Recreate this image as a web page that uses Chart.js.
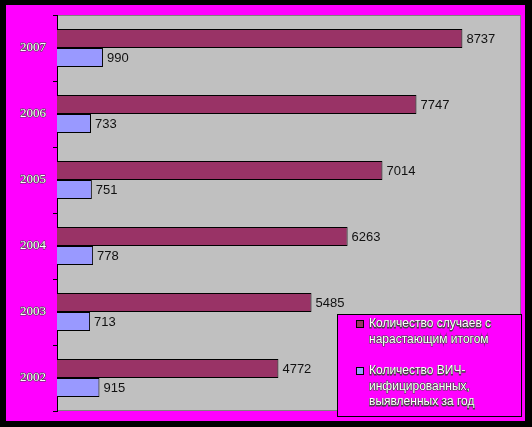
<!DOCTYPE html>
<html>
<head>
<meta charset="utf-8">
<script src="https://cdn.jsdelivr.net/npm/chart.js@4"></script>
<style>
  html, body { margin: 0; padding: 0; background: #000; }
  #wrap { width: 532px; height: 427px; position: relative; }
</style>
</head>
<body>
<div id="wrap"><canvas id="myChart" width="532" height="427"></canvas></div>
<script>
const years = ['2007', '2006', '2005', '2004', '2003', '2002']
const cumulative = [8737, 7747, 7014, 6263, 5485, 4772]
const perYear = [990, 733, 751, 778, 713, 915]
const legendLines = [
  ['Количество случаев с', 'нарастающим итогом'],
  ['Количество ВИЧ-', 'инфицированных,', 'выявленных за год']
]

const ctx = document.getElementById("myChart")

// magenta frame + grey plot area
const frame = {
  id: 'frame',
  beforeDraw(chart) {
    const c = chart.ctx, a = chart.chartArea
    c.save()
    c.fillStyle = '#000'
    c.fillRect(0, 0, chart.width, chart.height)
    c.fillStyle = '#ff00ff'
    c.fillRect(6, 5, 519, 416)
    c.fillStyle = '#c0c0c0'
    c.fillRect(a.left, a.top, a.right - a.left, a.bottom - a.top)
    c.strokeStyle = '#808080'
    c.lineWidth = 1
    c.strokeRect(a.left + 0.5, a.top + 0.5, a.right - a.left - 1, a.bottom - a.top - 1)
    c.restore()
  }
}

// value labels at the bar ends
const valueLabels = {
  id: 'valueLabels',
  afterDatasetsDraw(chart) {
    const c = chart.ctx
    c.save()
    c.font = '13px "Liberation Sans", Arial, sans-serif'
    c.fillStyle = '#111'
    c.textBaseline = 'middle'
    chart.data.datasets.forEach((ds, i) => {
      chart.getDatasetMeta(i).data.forEach((bar, j) => {
        c.fillText(ds.data[j], bar.x + 4, bar.y + 1)
      })
    })
    c.restore()
  }
}

// legend box drawn over the plot, like the original
const legendBox = {
  id: 'legendBox',
  afterDraw(chart) {
    const c = chart.ctx
    c.save()
    c.fillStyle = '#ff00ff'
    c.fillRect(337, 314, 184, 102)
    c.strokeStyle = '#000'
    c.lineWidth = 1
    c.strokeRect(337.5, 314.5, 184, 102)
    c.font = '12px "Liberation Sans", Arial, sans-serif'
    c.textBaseline = 'middle'
    let y = 324
    chart.data.datasets.forEach((ds, i) => {
      c.fillStyle = ds.backgroundColor
      c.fillRect(356, y - 4, 8, 8)
      c.strokeRect(356.5, y - 3.5, 7, 7)
      legendLines[i].forEach(t => {
        c.lineWidth = 1.2
        c.strokeStyle = '#444'
        c.strokeText(t, 369, y + 0.5)
        c.fillStyle = '#fff'
        c.fillText(t, 369, y)
        c.lineWidth = 1
        c.strokeStyle = '#000'
        y += 15.5
      })
      y += 16
    })
    c.restore()
  }
}

new Chart(ctx, {
  type: 'bar',
  data: {
    labels: years,
    datasets: [
      {
        label: 'Количество случаев с нарастающим итогом',
        data: cumulative,
        backgroundColor: '#993366',
        borderColor: '#000',
        borderWidth: 1,
        borderSkipped: 'left'
      },
      {
        label: 'Количество ВИЧ-инфицированных, выявленных за год',
        data: perYear,
        backgroundColor: '#9999ff',
        borderColor: '#000',
        borderWidth: 1,
        borderSkipped: 'left'
      }
    ]
  },
  options: {
    indexAxis: 'y',
    responsive: false,
    animation: false,
    layout: { padding: { left: 0, top: 15, right: 11, bottom: 16 } },
    datasets: { bar: { categoryPercentage: 0.576, barPercentage: 1 } },
    plugins: {
      legend: { display: false },
      tooltip: { enabled: false }
    },
    scales: {
      x: { display: false, min: 0, max: 10000 },
      y: {
        afterFit(scale) { scale.width = 57 },
        border: { color: '#000', width: 1 },
        grid: { drawOnChartArea: false, tickLength: 4, color: '#000' },
        ticks: {
          padding: 7,
          color: '#fff',
          textStrokeColor: '#444',
          textStrokeWidth: 1.2,
          font: { family: '"Liberation Serif", "Times New Roman", serif', size: 13 }
        }
      }
    }
  },
  plugins: [frame, valueLabels, legendBox]
})
</script>
</body>
</html>
